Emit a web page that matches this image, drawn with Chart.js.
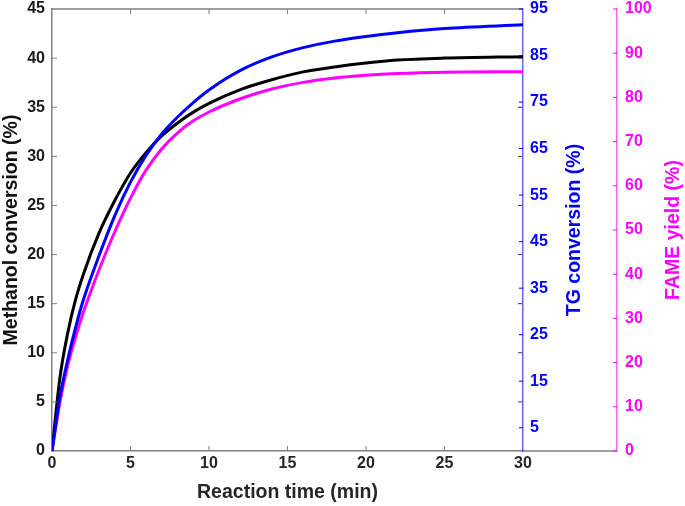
<!DOCTYPE html>
<html><head><meta charset="utf-8">
<script src="https://cdn.jsdelivr.net/npm/chart.js@4.4.0/dist/chart.umd.min.js"></script>
<style>html,body{margin:0;padding:0;background:#fff}#wrap{width:685px;height:506px;position:relative}</style>
</head><body><div id="wrap"><canvas id="c" width="685" height="506"></canvas></div>
<script>
// ---- data ----
const times      = [0, 0.5, 1, 1.5, 2, 3, 4, 5, 6, 7, 8, 9, 10, 12, 14, 16, 18, 20, 22, 25, 30];
const methanol   = [0, 7.4, 12.0, 15.4, 18.0, 22.2, 25.5, 28.3, 30.4, 32.1, 33.4, 34.5, 35.4, 36.8, 37.8, 38.6, 39.1, 39.5, 39.8, 40.0, 40.15];
const tgConv     = [0, 11.5, 19.6, 26.5, 32.5, 42.0, 50.6, 57.8, 63.6, 68.2, 71.8, 74.9, 77.6, 81.8, 84.7, 86.7, 88.1, 89.1, 89.9, 90.8, 91.6];
const fameYield  = [0, 11.0, 19.3, 25.8, 31.4, 41.0, 49.6, 57.2, 63.6, 68.4, 72.0, 74.7, 76.7, 79.7, 81.9, 83.4, 84.4, 85.0, 85.4, 85.7, 85.8];
const xTicks     = [0, 5, 10, 15, 20, 25, 30];
const leftTicks  = [0, 5, 10, 15, 20, 25, 30, 35, 40, 45];
const tgTicks    = [5, 15, 25, 35, 45, 55, 65, 75, 85, 95];
const fameTicks  = [0, 10, 20, 30, 40, 50, 60, 70, 80, 90, 100];
const xTitle     = 'Reaction time (min)';
const leftTitle  = 'Methanol conversion (%)';
const tgTitle    = 'TG conversion (%)';
const fameTitle  = 'FAME yield (%)';

const FONT = '"Liberation Sans", Arial, sans-serif';
const GRAY = '#808080';
const BLUE = '#0000ff';
const MAG = '#ff00ff';

const pts = arr => times.map((t, i) => ({x: t, y: arr[i]}));
const setTicks = list => s => { s.ticks = list.map(v => ({value: v})); };
const fixW = w => s => { s.width = w; s.paddingTop = 0; s.paddingBottom = 0; };

const decor = {
  id: 'decor',
  afterDraw(chart) {
    const ctx = chart.ctx;
    const {x, y, y1, y2} = chart.scales;
    const a = chart.chartArea;
    ctx.save();
    ctx.lineCap = 'butt';
    ctx.strokeStyle = GRAY; ctx.lineWidth = 1.5;
    ctx.beginPath();
    ctx.moveTo(a.left, a.top); ctx.lineTo(a.right, a.top);
    ctx.moveTo(a.right, a.bottom); ctx.lineTo(y2.left, a.bottom);
    ctx.stroke();
    ctx.lineWidth = 1;
    ctx.beginPath();
    xTicks.forEach(v => {
      if (v === 0 || v === 30) return;
      const px = x.getPixelForValue(v);
      ctx.moveTo(px, a.bottom); ctx.lineTo(px, a.bottom - 5);
      ctx.moveTo(px, a.top); ctx.lineTo(px, a.top + 5);
    });
    leftTicks.forEach(v => {
      if (v === 0 || v === 45) return;
      const py = y.getPixelForValue(v);
      ctx.moveTo(a.left, py); ctx.lineTo(a.left + 5, py);
    });
    ctx.stroke();
    ctx.strokeStyle = '#333';
    ctx.beginPath();
    leftTicks.forEach(v => {
      if (v === 0 || v === 45) return;
      const py = y.getPixelForValue(v);
      ctx.moveTo(a.right - 1, py); ctx.lineTo(a.right - 5, py);
    });
    ctx.stroke();
    ctx.strokeStyle = BLUE;
    ctx.beginPath();
    tgTicks.forEach(v => {
      const py = y1.getPixelForValue(v);
      ctx.moveTo(a.right, py); ctx.lineTo(a.right - 4, py);
    });
    ctx.stroke();
    ctx.strokeStyle = MAG;
    ctx.beginPath();
    fameTicks.forEach(v => {
      const py = y2.getPixelForValue(v);
      ctx.moveTo(y2.left, py); ctx.lineTo(y2.left - 4, py);
    });
    ctx.stroke();
    ctx.font = 'bold 19.5px ' + FONT;
    ctx.textAlign = 'center'; ctx.textBaseline = 'middle';
    const cy = (a.top + a.bottom) / 2;
    ctx.fillStyle = '#262626';
    ctx.fillText(xTitle, (a.left + a.right) / 2, 493);
    const vtext = (txt, cx, col) => {
      ctx.save(); ctx.translate(cx, cy); ctx.rotate(-Math.PI / 2);
      ctx.fillStyle = col; ctx.fillText(txt, 0, 0); ctx.restore();
    };
    vtext(leftTitle, 12, '#111');
    vtext(tgTitle, y1.left + 52, BLUE);
    vtext(fameTitle, y2.left + 57, MAG);
    ctx.restore();
  }
};

new Chart(document.getElementById('c'), {
  type: 'line',
  data: {
    datasets: [
      {label: 'FAME yield', data: pts(fameYield), yAxisID: 'y2', borderColor: MAG, borderWidth: 3, pointRadius: 0, cubicInterpolationMode: 'monotone', order: 3},
      {label: 'Methanol conversion', data: pts(methanol), yAxisID: 'y', borderColor: '#000', borderWidth: 3, pointRadius: 0, cubicInterpolationMode: 'monotone', order: 2},
      {label: 'TG conversion', data: pts(tgConv), yAxisID: 'y1', borderColor: BLUE, borderWidth: 3, pointRadius: 0, cubicInterpolationMode: 'monotone', order: 1}
    ]
  },
  options: {
    responsive: false,
    devicePixelRatio: 1,
    animation: false,
    layout: {padding: {top: 9, right: 0, bottom: 0, left: 0}},
    plugins: {legend: {display: false}, tooltip: {enabled: false}},
    scales: {
      x: {
        type: 'linear', position: 'bottom', min: 0, max: 30,
        afterBuildTicks: setTicks(xTicks),
        afterFit: s => { s.height = 55; s.paddingLeft = 0; s.paddingRight = 0; },
        grid: {display: false, drawTicks: false},
        border: {display: true, color: GRAY, width: 1.5},
        ticks: {padding: 3, color: '#262626', font: {family: FONT, size: 16, weight: 'bold'}}
      },
      y: {
        type: 'linear', position: 'left', min: 0, max: 45,
        afterBuildTicks: setTicks(leftTicks),
        afterFit: fixW(52),
        grid: {display: false, drawTicks: false},
        border: {display: true, color: GRAY, width: 1.5},
        ticks: {padding: 7, color: '#1a1a1a', font: {family: FONT, size: 16, weight: 'bold'}}
      },
      y1: {
        type: 'linear', position: 'right', min: 0, max: 95,
        afterBuildTicks: setTicks(tgTicks),
        afterFit: fixW(94),
        grid: {display: false, drawTicks: false},
        border: {display: true, color: 'rgba(0,0,255,0.6)', width: 1.5},
        ticks: {padding: 7, color: BLUE, font: {family: FONT, size: 16, weight: 'bold'}}
      },
      y2: {
        type: 'linear', position: 'right', min: 0, max: 100,
        afterBuildTicks: setTicks(fameTicks),
        afterFit: fixW(68),
        grid: {display: false, drawTicks: false},
        border: {display: true, color: 'rgba(255,0,255,0.6)', width: 1.5},
        ticks: {padding: 8, color: MAG, font: {family: FONT, size: 16, weight: 'bold'}}
      }
    }
  },
  plugins: [decor]
});
</script>
</body></html>
